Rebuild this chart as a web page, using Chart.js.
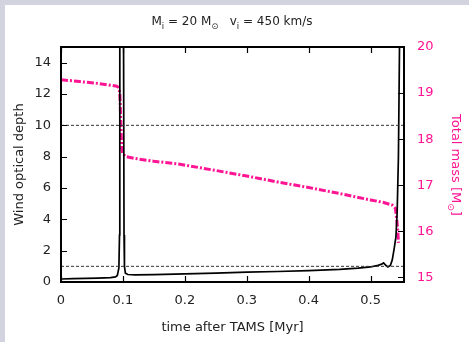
<!DOCTYPE html>
<html>
<head>
<meta charset="utf-8">
<script src="https://cdn.jsdelivr.net/npm/chart.js@4.4.0/dist/chart.umd.min.js"></script>
<style>
  html, body { margin: 0; padding: 0; background: #d3d2df; }
  #wrap { position: absolute; left: 5px; top: 5px; width: 464px; height: 337px; background: #fff; }
</style>
</head>
<body>
<div id="wrap"><canvas id="windChart" width="464" height="337"></canvas></div>
<script>
// wind optical depth (left axis)
const depthTime = [0, 0.02, 0.04, 0.06, 0.08, 0.088, 0.091, 0.0935, 0.0945, 0.095, 0.101, 0.1018, 0.1025, 0.104, 0.108,
  0.12, 0.15, 0.2, 0.25, 0.3, 0.35, 0.4, 0.45, 0.48, 0.5, 0.51, 0.518, 0.521, 0.525, 0.528, 0.532, 0.535, 0.538, 0.541, 0.543, 0.545, 0.547];
const windDepth = [0.19, 0.21, 0.23, 0.25, 0.28, 0.33, 0.42, 0.9, 3, 16, 16, 3, 1, 0.56, 0.48,
  0.46, 0.47, 0.52, 0.57, 0.63, 0.67, 0.72, 0.8, 0.88, 0.96, 1.04, 1.14, 1.22, 1.05, 0.96, 1.06, 1.4, 2.1, 2.9, 4.5, 8, 16];

// total mass (right axis)
const massTime = [0, 0.03, 0.06, 0.09, 0.093, 0.095, 0.0965, 0.098, 0.1, 0.105, 0.12, 0.15, 0.19,
  0.25, 0.3, 0.35, 0.4, 0.45, 0.5, 0.52, 0.535, 0.54, 0.542, 0.544, 0.545];
const totalMass = [19.29, 19.25, 19.21, 19.15, 19.12, 19.0, 18.4, 17.8, 17.68, 17.62, 17.58, 17.52, 17.46,
  17.32, 17.2, 17.07, 16.95, 16.82, 16.68, 16.63, 16.57, 16.5, 16.3, 16.0, 15.75];

// dotted guide levels on the optical depth axis
const refLevels = [1, 10];

const xTicks = [0, 0.1, 0.2, 0.3, 0.4, 0.5];
const depthTicks = [0, 2, 4, 6, 8, 10, 12, 14];
const massTicks = [15, 16, 17, 18, 19, 20];
const xMin = 0, xMax = 0.554;

const pink = '#ff1493';
const font = 'DejaVu Sans';

const pts = (xs, ys) => xs.map((x, i) => ({ x: x, y: ys[i] }));

const datasets = [];
refLevels.forEach(lvl => {
  datasets.push({
    data: [{ x: xMin, y: lvl }, { x: xMax, y: lvl }],
    yAxisID: 'y',
    borderColor: '#333',
    borderWidth: 1,
    borderDash: [3, 2],
    pointRadius: 0
  });
});
datasets.push({
  data: pts(depthTime, windDepth),
  yAxisID: 'y',
  borderColor: '#000',
  borderWidth: 1.7,
  pointRadius: 0,
  tension: 0
});
datasets.push({
  data: pts(massTime, totalMass),
  yAxisID: 'y2',
  borderColor: pink,
  borderWidth: 3,
  borderDash: [7, 2, 2, 2],
  pointRadius: 0,
  tension: 0
});

// title / labels with subscripts
function drawRich(ctx, parts, cx, y, size) {
  const sub = size * 0.7;
  let w = 0;
  parts.forEach(p => {
    ctx.font = (p.sub ? sub : size) + 'px "' + font + '"';
    p.w = ctx.measureText(p.t).width;
    w += p.w;
  });
  let x = cx - w / 2;
  ctx.textAlign = 'left';
  ctx.textBaseline = 'alphabetic';
  parts.forEach(p => {
    ctx.font = (p.sub ? sub : size) + 'px "' + font + '"';
    ctx.fillText(p.t, x, p.sub ? y + size * 0.3 : y);
    x += p.w;
  });
}

const framePlugin = {
  id: 'frame',
  afterDatasetsDraw(chart) {
    const { ctx, chartArea: a, scales } = chart;
    ctx.save();
    ctx.strokeStyle = '#000';
    ctx.lineWidth = 1.2;
    const tl = 6;
    ctx.beginPath();
    xTicks.forEach(v => {
      const px = Math.round(scales.x.getPixelForValue(v)) + 0.5;
      ctx.moveTo(px, a.bottom); ctx.lineTo(px, a.bottom - tl);
      ctx.moveTo(px, a.top); ctx.lineTo(px, a.top + tl);
    });
    depthTicks.forEach(v => {
      const py = Math.round(scales.y.getPixelForValue(v)) + 0.5;
      ctx.moveTo(a.left, py); ctx.lineTo(a.left + tl, py);
    });
    massTicks.forEach(v => {
      const py = Math.round(scales.y2.getPixelForValue(v)) + 0.5;
      ctx.moveTo(a.right, py); ctx.lineTo(a.right - tl, py);
    });
    ctx.stroke();
    ctx.lineWidth = 2;
    ctx.strokeRect(a.left, a.top, a.right - a.left, a.bottom - a.top);

    ctx.fillStyle = '#222';
    drawRich(ctx, [
      { t: 'M' }, { t: 'i', sub: true }, { t: ' = 20 M' }, { t: '\u2299', sub: true },
      { t: '   v' }, { t: 'i', sub: true }, { t: ' = 450 km/s' }
    ], 227, 20, 12);

    ctx.fillStyle = pink;
    ctx.translate(451, 160);
    ctx.rotate(Math.PI / 2);
    drawRich(ctx, [{ t: 'Total mass [M' }, { t: '\u2299', sub: true }, { t: ']' }], 0, 4, 13);
    ctx.restore();
  }
};

new Chart(document.getElementById('windChart'), {
  type: 'line',
  data: { datasets: datasets },
  options: {
    responsive: false,
    animation: false,
    devicePixelRatio: 1,
    layout: { padding: { top: 42, left: 0, right: 0, bottom: 0 } },
    plugins: { legend: { display: false }, tooltip: { enabled: false } },
    scales: {
      x: {
        type: 'linear',
        position: 'bottom',
        min: xMin,
        max: xMax,
        grid: { display: false, drawTicks: false },
        border: { display: false },
        afterBuildTicks: s => { s.ticks = xTicks.map(v => ({ value: v })); },
        afterFit: s => { s.height = 60; },
        ticks: {
          color: '#222',
          padding: 11,
          font: { family: font, size: 13 },
          callback: v => (v === 0 ? '0' : v.toFixed(1))
        },
        title: {
          display: true,
          text: 'time after TAMS [Myr]',
          color: '#222',
          font: { family: font, size: 13 },
          padding: { top: 0, bottom: 7 }
        }
      },
      y: {
        position: 'left',
        min: 0,
        max: 15,
        grid: { display: false, drawTicks: false },
        border: { display: false },
        afterBuildTicks: s => { s.ticks = depthTicks.map(v => ({ value: v })); },
        afterFit: s => { s.width = 56; },
        ticks: { color: '#222', padding: 10, font: { family: font, size: 13 } },
        title: {
          display: true,
          text: 'Wind optical depth',
          color: '#222',
          font: { family: font, size: 13 },
          padding: { top: 7, bottom: 0 }
        }
      },
      y2: {
        position: 'right',
        min: 14.9,
        max: 20,
        grid: { display: false, drawTicks: false },
        border: { display: false },
        afterBuildTicks: s => { s.ticks = massTicks.map(v => ({ value: v })); },
        afterFit: s => { s.width = 65; },
        ticks: { color: pink, padding: 13, font: { family: font, size: 13 } }
      }
    }
  },
  plugins: [framePlugin]
});
</script>
</body>
</html>
